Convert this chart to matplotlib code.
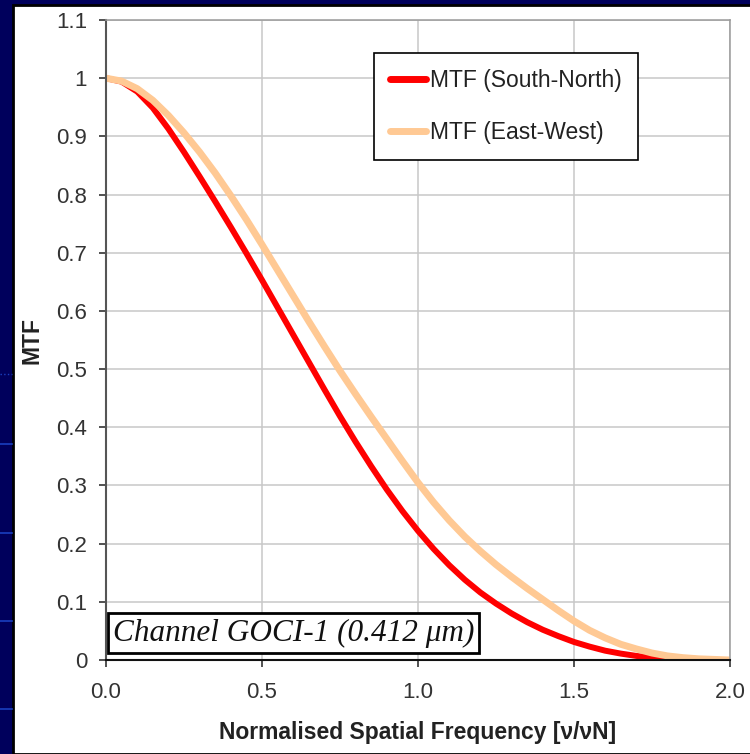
import matplotlib
matplotlib.use("Agg")
import matplotlib.pyplot as plt
from matplotlib.patches import Rectangle
from matplotlib.lines import Line2D

# normalised spatial frequency
freq = [0.0, 0.05, 0.1, 0.15, 0.2, 0.25, 0.3, 0.35, 0.4, 0.45, 0.5,
        0.55, 0.6, 0.65, 0.7, 0.75, 0.8, 0.85, 0.9, 0.95, 1.0,
        1.05, 1.1, 1.15, 1.2, 1.25, 1.3, 1.35, 1.4, 1.45, 1.5,
        1.55, 1.6, 1.65, 1.7, 1.75, 1.8, 1.85, 1.9, 1.95, 2.0]
# MTF values
mtf_sn = [1.0, 0.994, 0.977, 0.949, 0.913, 0.873, 0.831, 0.788, 0.744, 0.699, 0.653,
          0.606, 0.559, 0.512, 0.465, 0.419, 0.375, 0.333, 0.293, 0.256, 0.222,
          0.191, 0.163, 0.138, 0.116, 0.097, 0.080, 0.065, 0.052, 0.041, 0.031,
          0.023, 0.016, 0.011, 0.007, 0.004, 0.002, 0.001, 0.0, 0.0, 0.0]
mtf_ew = [1.0, 0.995, 0.982, 0.962, 0.936, 0.906, 0.873, 0.837, 0.798, 0.757, 0.714,
          0.670, 0.626, 0.582, 0.539, 0.497, 0.457, 0.418, 0.380, 0.342, 0.305,
          0.271, 0.240, 0.212, 0.187, 0.164, 0.143, 0.123, 0.104, 0.085, 0.067,
          0.051, 0.038, 0.027, 0.019, 0.012, 0.007, 0.004, 0.002, 0.001, 0.0]

yticks = [0, 0.1, 0.2, 0.3, 0.4, 0.5, 0.6, 0.7, 0.8, 0.9, 1.0, 1.1]
ytick_labels = ["0", "0.1", "0.2", "0.3", "0.4", "0.5", "0.6", "0.7", "0.8", "0.9", "1", "1.1"]
xticks = [0.0, 0.5, 1.0, 1.5, 2.0]

W, H = 750, 754
fig = plt.figure(figsize=(W / 100, H / 100), dpi=100)
fig.patch.set_facecolor("#00005c")

# faint slide decoration on the navy strip
for yy in [444, 533, 621, 709]:
    fig.add_artist(Line2D([0, 12 / W], [1 - yy / H] * 2, color="#1a3fbf", lw=1.2))
fig.add_artist(Line2D([0, 12 / W], [1 - 374 / H] * 2, color="#1a3fbf", lw=1, ls=":"))

# white slide panel with black edge
fig.add_artist(Rectangle((13 / W, 0), 1, 1 - 5 / H, transform=fig.transFigure,
                         facecolor="white", edgecolor="black", lw=2, zorder=0))

ax = fig.add_axes([106 / W, 1 - 660 / H, 624 / W, 640 / H])
ax.set_facecolor("white")

ax.plot(freq, mtf_sn, color="#ff0000", lw=4.3, solid_capstyle="round",
        solid_joinstyle="round", label="MTF (South-North)")
ax.plot(freq, mtf_ew, color="#ffc994", lw=5.0, solid_capstyle="round",
        solid_joinstyle="round", label="MTF (East-West)")

ax.set_xlim(0, 2.0)
ax.set_ylim(0, 1.1)
ax.set_xticks(xticks)
ax.set_xticklabels(["%.1f" % v for v in xticks])
ax.set_yticks(yticks)
ax.set_yticklabels(ytick_labels)
ax.grid(True, color="#c8c8c8", lw=1.1)
ax.set_axisbelow(True)

ax.tick_params(direction="out", length=5, width=1.2, labelsize=16,
               labelcolor="#333333", color="#333333")
ax.tick_params(axis="y", pad=8.5)
ax.tick_params(axis="x", pad=11)
for s in ["top", "right"]:
    ax.spines[s].set_color("#9a9a9a")
    ax.spines[s].set_linewidth(1.1)
ax.spines["left"].set_color("#555555")
ax.spines["left"].set_linewidth(1.5)
ax.spines["bottom"].set_color("#111111")
ax.spines["bottom"].set_linewidth(1.5)

for lab in ax.get_xticklabels() + ax.get_yticklabels():
    lab.set_family("Liberation Sans")

ax.set_ylabel("MTF", fontsize=16.5, fontweight="bold", family="Liberation Sans",
              color="#222222")
ax.set_xlabel("Normalised Spatial Frequency [\u03bd/\u03bdN]", fontsize=16.5,
              fontweight="bold", family="Liberation Sans", color="#222222")
ax.yaxis.set_label_coords((32 - 106) / 624, 0.5)
ax.yaxis.label.set(va="center", ha="center", rotation_mode="default")
ax.xaxis.set_label_coords(0.5, (660 - 733) / 640)
ax.xaxis.label.set(va="center")

leg = ax.legend(loc="upper left", bbox_to_anchor=(0.4295, 0.948), frameon=True,
                fancybox=False, framealpha=1, edgecolor="black",
                prop={"family": "Liberation Sans", "size": 16.5},
                labelspacing=1.25, handlelength=1.55, handletextpad=0.2,
                borderpad=0.7, borderaxespad=0)
leg.get_frame().set_linewidth(1.2)
for t in leg.get_texts():
    t.set_color("#222222")
for h in leg.get_lines():
    h.set_linewidth(5.0)

ax.text((113 - 106) / 624, (660 - 633) / 640, "Channel GOCI-1 (0.412 \u03bcm)",
        transform=ax.transAxes, fontsize=22.5, fontstyle="italic",
        family="Liberation Serif", color="#111111", ha="left", va="center",
        bbox=dict(boxstyle="square,pad=0.16", facecolor="white", edgecolor="black", lw=2))

fig.savefig("out.png", dpi=100, facecolor=fig.get_facecolor())
